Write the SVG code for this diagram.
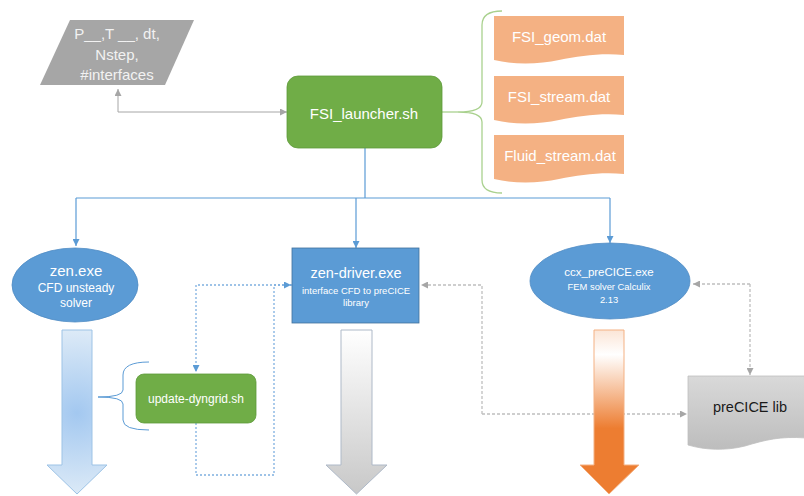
<svg xmlns="http://www.w3.org/2000/svg" width="804" height="496" viewBox="0 0 804 496">
<defs>
<style>
text{font-family:"Liberation Sans",Arial,sans-serif;text-anchor:middle;dominant-baseline:central}
.w{fill:#ffffff}
.blue{stroke:#5B9BD5;stroke-width:1.2;fill:none}
.gray{stroke:#A6A6A6;stroke-width:1;fill:none}
.gdot{stroke:#BFBFBF;stroke-width:1.3;fill:none;stroke-dasharray:3 2}
.bdot{stroke:#7FB0E0;stroke-width:1.3;fill:none;stroke-dasharray:2 2}
.doc{fill:#F4B183}
</style>
<marker id="ab" viewBox="0 0 10 10" refX="10" refY="5" markerWidth="7" markerHeight="7" markerUnits="userSpaceOnUse" orient="auto"><path d="M0,0L10,5L0,10z" fill="#5B9BD5"/></marker>
<marker id="ag" viewBox="0 0 10 10" refX="10" refY="5" markerWidth="7" markerHeight="7" markerUnits="userSpaceOnUse" orient="auto"><path d="M0,0L10,5L0,10z" fill="#A6A6A6"/></marker>
<linearGradient id="gOr" x1="0" y1="0" x2="0" y2="1"><stop offset="0" stop-color="#FBE5D6"/><stop offset="0.15" stop-color="#FFFFFF"/><stop offset="0.6" stop-color="#ED7D31"/><stop offset="1" stop-color="#ED7D31"/></linearGradient>
<linearGradient id="gGr" x1="0" y1="0" x2="0" y2="1"><stop offset="0" stop-color="#FFFFFF"/><stop offset="1" stop-color="#C8C8C8"/></linearGradient>
<radialGradient id="gBl" gradientUnits="userSpaceOnUse" cx="77" cy="413" r="85"><stop offset="0" stop-color="#A3C8F0"/><stop offset="1" stop-color="#DEEBF7"/></radialGradient>
<linearGradient id="gLib" x1="0" y1="0" x2="0" y2="1"><stop offset="0" stop-color="#D9D9D9"/><stop offset="1" stop-color="#BDBDBD"/></linearGradient>
</defs>
<rect width="804" height="496" fill="#ffffff"/>

<g id="connectors">
<path class="gray" d="M118,112 V89" marker-end="url(#ag)"/>
<path class="gray" d="M118,112 H287" marker-end="url(#ag)"/>
<path class="blue" d="M365,148 V198"/>
<path class="blue" d="M76,198 H610"/>
<path class="blue" d="M76,198 V246" marker-end="url(#ab)"/>
<path class="blue" d="M356,198 V248" marker-end="url(#ab)"/>
<path class="blue" d="M610,198 V243" marker-end="url(#ab)"/>
<path d="M502,11 Q482,11 482,25 V102 Q482,112 458,112 Q482,112 482,122 V180 Q482,193 502,193" fill="none" stroke="#A9D18E" stroke-width="1.3"/>
<path d="M442,112 H458" fill="none" stroke="#A9D18E" stroke-width="1.3"/>
<path d="M149,362 Q123,362 123,375 V390 Q123,397 98,397 Q123,397 123,404 V420 Q123,430 149,430" fill="none" stroke="#5B9BD5" stroke-width="1"/>
<path class="bdot" d="M292,285 H196 V372" marker-end="url(#ab)"/>
<path class="bdot" d="M196,423 V475 H274 V285 H291" marker-end="url(#ab)"/>
<path class="gdot" d="M750,284 H693" marker-end="url(#ag)"/>
<path class="gdot" d="M750,284 V375" marker-end="url(#ag)"/>
<path class="gdot" d="M482,414 V285 H421" marker-end="url(#ag)"/>
<path class="gdot" d="M482,414 H687" marker-end="url(#ag)"/>
</g>

<g id="params">
<polygon points="70,20 194,20 165,85 40,85" fill="#A6A6A6"/>
<text x="117" y="33" font-size="15" fill="#F2F2F2">P__,T __, dt,</text>
<text x="117" y="54" font-size="15" fill="#F2F2F2">Nstep,</text>
<text x="117" y="74" font-size="15" fill="#F2F2F2">#interfaces</text>
</g>

<g id="launcher">
<rect x="287" y="76" width="155" height="72" rx="11" fill="#70AD47" stroke="#5E9A3A" stroke-width="0.8"/>
<text x="364" y="113" font-size="15" class="w">FSI_launcher.sh</text>
</g>

<g id="fsi_geom">
<path class="doc" d="M494,16 H624 V55 C600,53 580,56 559,60 C540,64 515,65 494,60 Z"/>
<text x="559" y="36" font-size="15" class="w">FSI_geom.dat</text>
</g>
<g id="fsi_stream">
<path class="doc" d="M494,76 H624 V115 C600,113 580,116 559,120 C540,124 515,125 494,120 Z"/>
<text x="559" y="96" font-size="15" class="w">FSI_stream.dat</text>
</g>
<g id="fluid_stream">
<path class="doc" d="M494,135 H624 V174 C600,172 580,175 559,179 C540,183 515,184 494,179 Z"/>
<text x="560" y="155" font-size="15" class="w">Fluid_stream.dat</text>
</g>

<g id="zen">
<ellipse cx="75" cy="285" rx="63" ry="37" fill="#5B9BD5" stroke="#4F8CC4" stroke-width="0.8"/>
<text x="76" y="270" font-size="15" class="w">zen.exe</text>
<text x="76" y="288" font-size="12" class="w">CFD unsteady</text>
<text x="76" y="303" font-size="12" class="w">solver</text>
</g>

<g id="zen_driver">
<rect x="292" y="248" width="127" height="75" fill="#5B9BD5" stroke="#41719C" stroke-width="0.8"/>
<text x="356" y="273" font-size="14.5" class="w">zen-driver.exe</text>
<text x="356" y="290" font-size="9.5" class="w">interface CFD to preCICE</text>
<text x="356" y="302" font-size="9.5" class="w">library</text>
</g>

<g id="ccx">
<ellipse cx="610" cy="281" rx="80" ry="38" fill="#5B9BD5" stroke="#4F8CC4" stroke-width="0.8"/>
<text x="609" y="272" font-size="11.5" class="w">ccx_preCICE.exe</text>
<text x="609" y="286" font-size="9.4" class="w">FEM solver Calculix</text>
<text x="609" y="299" font-size="9.4" class="w">2.13</text>
</g>

<g id="update_dyngrid">
<rect x="136" y="374" width="120" height="49" rx="8" fill="#70AD47" stroke="#5E9A3A" stroke-width="0.8"/>
<text x="196" y="399" font-size="12" class="w">update-dyngrid.sh</text>
</g>

<g id="precice_lib">
<path d="M688,376 H806 V438 C780,436 765,440 745,446 C725,451 705,450 688,445 Z" fill="url(#gLib)" stroke="#BFBFBF" stroke-width="0.8"/>
<text x="750" y="407" font-size="14.5" fill="#1a1a1a">preCICE lib</text>
</g>

<g id="arrow_zen">
<path d="M62,330 H92 V465 H107 L77,494 L47,465 H62 Z" fill="url(#gBl)" stroke="#9DC3E6" stroke-width="1"/>
</g>
<g id="arrow_driver">
<path d="M341,330 H372 V465 H387 L356.5,494 L326,465 H341 Z" fill="url(#gGr)" stroke="#AEB9C8" stroke-width="1"/>
</g>
<g id="arrow_ccx">
<path d="M594,330 H624 V465 H639 L609,494 L580,465 H594 Z" fill="url(#gOr)" stroke="#F4B183" stroke-width="1"/>
</g>
</svg>
